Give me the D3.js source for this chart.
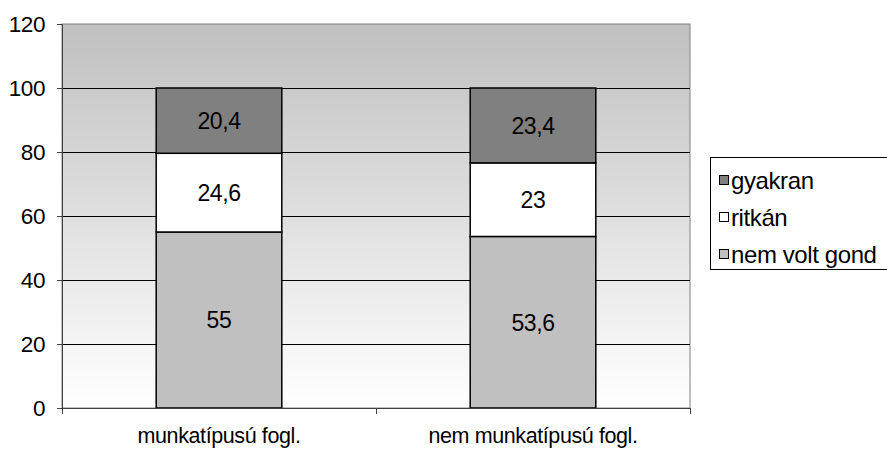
<!DOCTYPE html>
<html lang="hu">
<head>
<meta charset="UTF-8" />
<script src="https://d3js.org/d3.v7.min.js"></script>
<style>
  body { margin: 0; background: #fff; }
  svg { font-family: "Liberation Sans", Arial, sans-serif; }
  text { fill: #000; letter-spacing: -0.4px; }
  .tick-y { font-size: 22.5px; }
  .tick-x { font-size: 21.5px; }
  .lbl { font-size: 23px; }
  .leg { font-size: 24px; }
</style>
</head>
<body>
<svg width="887" height="452"></svg>
<script>
const categories = ["munkatípusú fogl.", "nem munkatípusú fogl."];
const series = ["nem volt gond", "ritkán", "gyakran"];
const nemVoltGond = [55, 53.6];
const ritkan = [24.6, 23];
const gyakran = [20.4, 23.4];
const yTicks = [0, 20, 40, 60, 80, 100, 120];
const colors = { "nem volt gond": "#c0c0c0", "ritkán": "#ffffff", "gyakran": "#808080" };

const rows = categories.map((c, i) => ({
  cat: c, "nem volt gond": nemVoltGond[i], "ritkán": ritkan[i], "gyakran": gyakran[i]
}));

const svg = d3.select("svg");
const m = { left: 62, right: 690, top: 24, bottom: 408 };

const x = d3.scaleBand().domain(categories).range([m.left, m.right]).paddingInner(0.6).paddingOuter(0.3);
const xOuter = d3.scaleBand().domain(categories).range([m.left, m.right]);
const y = d3.scaleLinear().domain([0, 120]).range([m.bottom, m.top]);

const defs = svg.append("defs");
const grad = defs.append("linearGradient").attr("id", "bg").attr("x1", 0).attr("y1", 0).attr("x2", 0).attr("y2", 1);
grad.append("stop").attr("offset", "0%").attr("stop-color", "#c0c0c0");
grad.append("stop").attr("offset", "100%").attr("stop-color", "#ffffff");

svg.append("rect")
  .attr("x", m.left).attr("y", m.top)
  .attr("width", m.right - m.left).attr("height", m.bottom - m.top)
  .attr("fill", "url(#bg)")
  .attr("stroke", "#808080").attr("stroke-width", 1);

// gridlines
svg.append("g").selectAll("line")
  .data(yTicks.filter(d => d > 0 && d < 120))
  .join("line")
  .attr("x1", m.left).attr("x2", m.right)
  .attr("y1", d => Math.round(y(d)) + 0.5).attr("y2", d => Math.round(y(d)) + 0.5)
  .attr("stroke", "#000").attr("stroke-width", 1);

// y axis
const yAxis = svg.append("g")
  .attr("transform", `translate(${m.left},0)`)
  .call(d3.axisLeft(y).tickValues(yTicks).tickSize(5).tickPadding(12));
yAxis.attr("font-size", null).attr("font-family", null);
yAxis.select(".domain").attr("stroke", "#404040");
yAxis.selectAll(".tick line").attr("stroke", "#404040");
yAxis.selectAll("text").attr("class", "tick-y");

// stacked bars
const stack = d3.stack().keys(series)(rows);
const layers = svg.append("g").selectAll("g").data(stack).join("g")
  .attr("fill", d => colors[d.key]);
layers.selectAll("rect").data(d => d).join("rect")
  .attr("x", d => x(d.data.cat))
  .attr("width", x.bandwidth())
  .attr("y", d => y(d[1]))
  .attr("height", d => y(d[0]) - y(d[1]))
  .attr("stroke", "#000").attr("stroke-width", 1.5);

layers.selectAll("text").data(d => d.map(v => ({ v, key: d.key }))).join("text")
  .attr("class", "lbl")
  .attr("x", d => x(d.v.data.cat) + x.bandwidth() / 2)
  .attr("y", d => (y(d.v[0]) + y(d.v[1])) / 2)
  .attr("dy", "0.36em")
  .attr("text-anchor", "middle")
  .text(d => String(d.v.data[d.key]).replace(".", ","));

// x axis
const xAxis = svg.append("g")
  .attr("transform", `translate(0,${m.bottom})`)
  .call(d3.axisBottom(xOuter).tickSize(0).tickPadding(20));
xAxis.attr("font-size", null).attr("font-family", null);
xAxis.select(".domain").remove();
xAxis.selectAll("text").attr("class", "tick-x");
svg.append("line").attr("x1", m.left - 5).attr("x2", m.right)
  .attr("y1", m.bottom + 0.5).attr("y2", m.bottom + 0.5).attr("stroke", "#404040");
svg.append("g").selectAll("line").data([m.left, (m.left + m.right) / 2, m.right]).join("line")
  .attr("x1", d => Math.round(d) + 0.5).attr("x2", d => Math.round(d) + 0.5)
  .attr("y1", m.bottom).attr("y2", m.bottom + 6).attr("stroke", "#404040");

// legend
const lg = svg.append("g");
lg.append("rect").attr("x", 710.5).attr("y", 157.5).attr("width", 190).attr("height", 112)
  .attr("fill", "#fff").attr("stroke", "#000");
const items = lg.selectAll("g.item").data(series.slice().reverse()).join("g")
  .attr("transform", (d, i) => `translate(719,${180 + i * 37})`);
items.append("rect").attr("x", 0.5).attr("y", -4.5).attr("width", 9).attr("height", 9)
  .attr("fill", d => colors[d]).attr("stroke", "#000");
items.append("text").attr("class", "leg").attr("x", 12).attr("dy", "0.36em").text(d => d);
</script>
</body>
</html>
